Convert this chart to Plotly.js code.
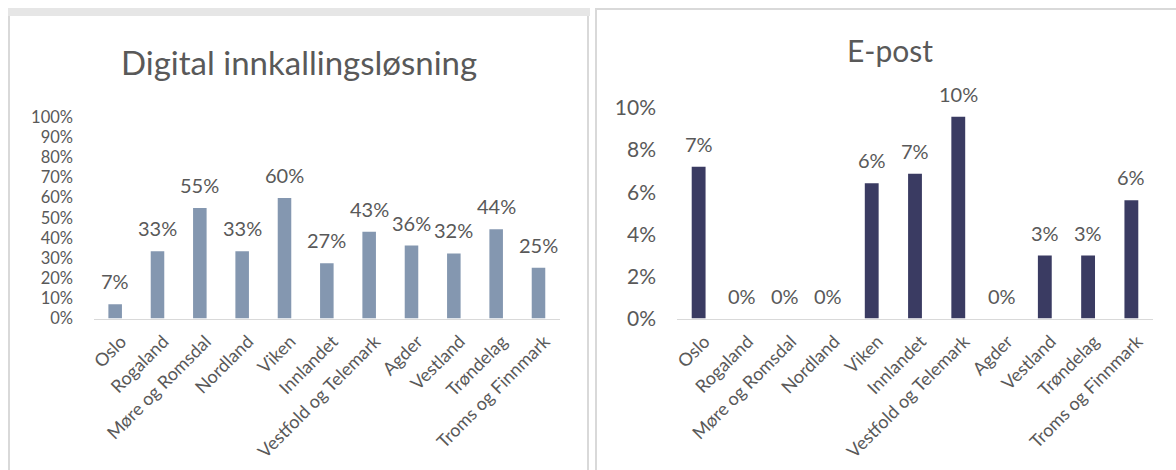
<!DOCTYPE html>
<html>
<head>
<meta charset="utf-8">
<script src="https://cdn.plot.ly/plotly-3.0.1.min.js"></script>
<style>
  html, body { margin: 0; padding: 0; background: #ffffff; }
  #chart { width: 1176px; height: 470px; }
</style>
</head>
<body>
<div id="chart"></div>
<script>
// ---- data ----
const categories = ["Oslo", "Rogaland", "Møre og Romsdal", "Nordland", "Viken", "Innlandet",
  "Vestfold og Telemark", "Agder", "Vestland", "Trøndelag", "Troms og Finnmark"];
const digitalValues = [0.071, 0.334, 0.549, 0.334, 0.598, 0.274, 0.430, 0.362, 0.323, 0.443, 0.252];
const epostValues = [0.0721, 0, 0, 0, 0.0643, 0.0688, 0.0959, 0, 0.0299, 0.0299, 0.0562];
const leftTitle = "Digital innkallingsløsning";
const rightTitle = "E-post";
const leftYTicks = [0, 0.1, 0.2, 0.3, 0.4, 0.5, 0.6, 0.7, 0.8, 0.9, 1.0];
const rightYTicks = [0, 0.02, 0.04, 0.06, 0.08, 0.10];

// ---- layout helpers ----
const W = 1176, H = 470;
const px = v => v / W;
const py = v => 1 - v / H;
const FONT = "Lato, 'Open Sans', sans-serif";
const GREY = "#595959";

function pct(v) { return Math.round(v * 100) + "%"; }

const traces = [
  { type: "bar", x: categories, y: digitalValues, xaxis: "x", yaxis: "y",
    marker: { color: "#8497b0", line: { width: 0 } }, hoverinfo: "x+y" },
  { type: "bar", x: categories, y: epostValues, xaxis: "x2", yaxis: "y2",
    marker: { color: "#3a3b62", line: { width: 0 } }, hoverinfo: "x+y" }
];

const annotations = [];
categories.forEach((c, i) => {
  annotations.push({ x: c, y: digitalValues[i], xref: "x", yref: "y", text: pct(digitalValues[i]),
    showarrow: false, yanchor: "bottom", yshift: 9, font: { family: FONT, size: 20, color: GREY } });
  annotations.push({ x: c, y: epostValues[i], xref: "x2", yref: "y2", text: pct(epostValues[i]),
    showarrow: false, yanchor: "bottom", yshift: 9, font: { family: FONT, size: 20, color: GREY } });
});
annotations.push({ x: px(299), y: py(62), xref: "paper", yref: "paper", text: leftTitle, showarrow: false,
  xanchor: "center", yanchor: "middle", font: { family: FONT, size: 33, color: GREY } });
annotations.push({ x: px(890), y: py(50), xref: "paper", yref: "paper", text: rightTitle, showarrow: false,
  xanchor: "center", yanchor: "middle", font: { family: FONT, size: 30, color: GREY } });

const borderColor = "#d9d9d9";
const shapes = [
  { type: "rect", xref: "paper", yref: "paper", x0: px(8), x1: px(590), y0: py(16), y1: py(8),
    fillcolor: "#e6e6e6", line: { width: 0 }, layer: "below" },
  { type: "rect", xref: "paper", yref: "paper", x0: px(8), x1: px(10), y0: py(470), y1: py(16),
    fillcolor: borderColor, line: { width: 0 }, layer: "below" },
  { type: "rect", xref: "paper", yref: "paper", x0: px(587), x1: px(589), y0: py(470), y1: py(16),
    fillcolor: borderColor, line: { width: 0 }, layer: "below" },
  { type: "rect", xref: "paper", yref: "paper", x0: px(595), x1: px(1176), y0: py(10), y1: py(8),
    fillcolor: borderColor, line: { width: 0 }, layer: "below" },
  { type: "rect", xref: "paper", yref: "paper", x0: px(595), x1: px(597), y0: py(470), y1: py(8),
    fillcolor: borderColor, line: { width: 0 }, layer: "below" }
];

const xCommon = {
  type: "category", showgrid: false, zeroline: false, showline: true,
  linecolor: "#d9d9d9", linewidth: 1.5, ticks: "", tickangle: -45,
  ticklabelstandoff: 4, ticklabelshift: 6,
  tickfont: { family: FONT, size: 18, color: GREY }, fixedrange: true
};
const yCommon = {
  showgrid: false, zeroline: false, showline: false, ticks: "", fixedrange: true
};

const layout = {
  width: W, height: H,
  margin: { l: 0, r: 0, t: 0, b: 0, pad: 0 },
  paper_bgcolor: "#ffffff", plot_bgcolor: "rgba(0,0,0,0)",
  showlegend: false, bargap: 0.68,
  font: { family: FONT, color: GREY },
  xaxis: Object.assign({}, xCommon, { domain: [px(94), px(560)], anchor: "y" }),
  yaxis: Object.assign({}, yCommon, { domain: [py(318.5), py(117)], anchor: "x", range: [0, 1],
    tickvals: leftYTicks, ticktext: leftYTicks.map(pct), ticklabelstandoff: 20,
    tickfont: { family: FONT, size: 16.5, color: GREY } }),
  xaxis2: Object.assign({}, xCommon, { domain: [px(677), px(1153)], anchor: "y2" }),
  yaxis2: Object.assign({}, yCommon, { domain: [py(318.5), py(108)], anchor: "x2", range: [0, 0.1],
    tickvals: rightYTicks, ticktext: rightYTicks.map(pct), ticklabelstandoff: 20,
    tickfont: { family: FONT, size: 21, color: GREY } }),
  annotations: annotations,
  shapes: shapes
};

Plotly.newPlot("chart", traces, layout, { displayModeBar: false, staticPlot: true });
</script>
</body>
</html>
